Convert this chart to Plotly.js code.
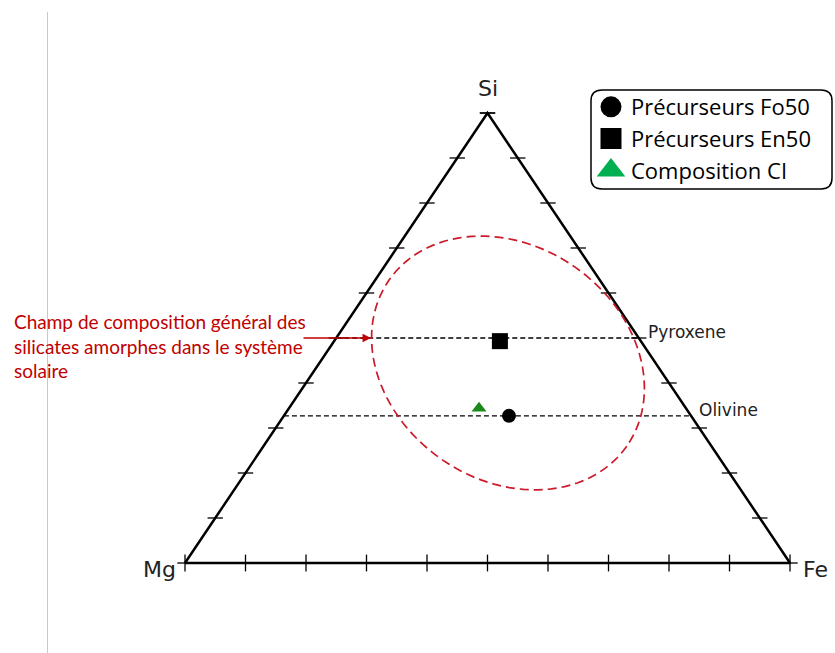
<!DOCTYPE html>
<html>
<head>
<meta charset="utf-8">
<script src="https://cdn.plot.ly/plotly-3.0.1.min.js"></script>
<style>html,body{margin:0;padding:0;background:#fff;}#chart{width:835px;height:653px;}</style>
</head>
<body>
<div id="chart"></div>
<script>
// ---- data (ternary fractions: Si, Fe; Mg = 1 - Si - Fe) ----
const seriesNames = ['Précurseurs Fo50', 'Précurseurs En50', 'Composition CI'];
const siFrac = [0.327, 0.493, 0.344];
const feFrac = [0.372, 0.274, 0.314];
const mgFrac = [0.301, 0.233, 0.342];
const vertexLabels = ['Mg', 'Fe', 'Si'];
const refLineNames = ['Pyroxene', 'Olivine'];
const refLineSi = [0.5, 0.327];
const tickFractions = [0, 0.1, 0.2, 0.3, 0.4, 0.5, 0.6, 0.7, 0.8, 0.9, 1];
const noteText = 'Champ de composition général des<br>silicates amorphes dans le système<br>solaire';

// ternary -> cartesian (Mg at x=0, Fe at x=1, Si at top)
function tx(si, fe) { return fe + si / 2; }
function ty(si) { return si; }

// pixel scale of the layout below (used only for the ellipse outline)
const PX = 605, PY = 450, OX = 185, OY = 563;

const traces = [];
// triangle outline
const triSi = [0, 0, 1, 0], triFe = [0, 1, 0, 0];
traces.push({
  x: triSi.map((s, i) => tx(s, triFe[i])), y: triSi.map(ty),
  mode: 'lines', line: {color: '#000', width: 2.5}, showlegend: false, hoverinfo: 'skip'
});
// ticks: bottom edge
traces.push({
  x: tickFractions.map(f => tx(0, f)), y: tickFractions.map(() => 0),
  mode: 'markers', marker: {symbol: 'line-ns', size: 12, line: {color: '#000', width: 1.3}},
  showlegend: false, hoverinfo: 'skip', cliponaxis: false
});
// ticks: left (Mg-Si) and right (Fe-Si) edges
traces.push({
  x: tickFractions.map(f => tx(f, 0)).concat(tickFractions.map(f => tx(f, 1 - f))),
  y: tickFractions.map(ty).concat(tickFractions.map(ty)),
  mode: 'markers', marker: {symbol: 'line-ew', size: 11, line: {color: '#000', width: 1.3}},
  showlegend: false, hoverinfo: 'skip', cliponaxis: false
});
// reference lines
refLineSi.forEach((s, i) => {
  traces.push({
    x: [tx(s, 0), tx(s, 1 - s)], y: [ty(s), ty(s)],
    mode: 'lines', line: {color: '#000', width: 1.4, dash: '5px,3px'},
    showlegend: false, hoverinfo: 'skip'
  });
});
// data points
const plotSymbols = ['circle', 'square', 'triangle-up'];
const plotColors = ['#000000', '#000000', '#1a8a1a'];
const plotSizes = [14, 16, 13];
const legendColors = ['#000000', '#000000', '#00b050'];
seriesNames.forEach((n, i) => {
  traces.push({
    x: [tx(siFrac[i], feFrac[i])], y: [ty(siFrac[i])], name: n,
    customdata: [[mgFrac[i], feFrac[i], siFrac[i]]],
    mode: 'markers', marker: {symbol: plotSymbols[i], size: plotSizes[i], color: plotColors[i]},
    showlegend: false, cliponaxis: false
  });
});
seriesNames.forEach((n, i) => {
  traces.push({
    x: [null], y: [null], name: n, mode: 'markers',
    marker: {symbol: plotSymbols[i], size: 16, color: legendColors[i], line: {color: legendColors[i], width: 5}},
    showlegend: true
  });
});

// ellipse (dashed red field) in pixel space -> data coords
const ell = {cx: 508, cy: 363, a: 145, b: 117, theta: 35 * Math.PI / 180};
let path = '';
for (let k = 0; k <= 120; k++) {
  const t = 2 * Math.PI * k / 120;
  const px = ell.cx + ell.a * Math.cos(ell.theta) * Math.cos(t) - ell.b * Math.sin(ell.theta) * Math.sin(t);
  const py = ell.cy + ell.a * Math.sin(ell.theta) * Math.cos(t) + ell.b * Math.cos(ell.theta) * Math.sin(t);
  const dx = (px - OX) / PX, dy = (OY - py) / PY;
  path += (k === 0 ? 'M' : 'L') + dx.toFixed(5) + ',' + dy.toFixed(5);
}
path += 'Z';

// rounded legend box in paper coords
const W = 835, H = 653;
function rr(x0, y0, x1, y1, r) {
  const X = v => (v / W).toFixed(5), Y = v => (1 - v / H).toFixed(5);
  return 'M' + X(x0 + r) + ',' + Y(y0) + ' L' + X(x1 - r) + ',' + Y(y0) +
    ' Q' + X(x1) + ',' + Y(y0) + ' ' + X(x1) + ',' + Y(y0 + r) +
    ' L' + X(x1) + ',' + Y(y1 - r) + ' Q' + X(x1) + ',' + Y(y1) + ' ' + X(x1 - r) + ',' + Y(y1) +
    ' L' + X(x0 + r) + ',' + Y(y1) + ' Q' + X(x0) + ',' + Y(y1) + ' ' + X(x0) + ',' + Y(y1 - r) +
    ' L' + X(x0) + ',' + Y(y0 + r) + ' Q' + X(x0) + ',' + Y(y0) + ' ' + X(x0 + r) + ',' + Y(y0) + ' Z';
}

const shapes = [
  {type: 'path', xref: 'x', yref: 'y', path: path, line: {color: '#cc1a2a', width: 1.7, dash: '9px,5px'}},
  {type: 'path', xref: 'paper', yref: 'paper', path: rr(591, 90, 832, 189, 11), line: {color: '#000', width: 1.5}, fillcolor: 'rgba(255,255,255,0)'},
  {type: 'line', xref: 'paper', yref: 'paper', x0: 47.5 / W, x1: 47.5 / W, y0: 0, y1: 1 - 12 / H, line: {color: '#c8c8c8', width: 1}}
];

const annotations = [
  {x: tx(1, 0), y: ty(1), text: vertexLabels[2], showarrow: false, xanchor: 'center', yanchor: 'bottom', yshift: 10, font: {size: 22, color: '#222'}},
  {x: tx(0, 0), y: 0, text: vertexLabels[0], showarrow: false, xanchor: 'right', yanchor: 'middle', xshift: -7, yshift: -6, font: {size: 22, color: '#222'}},
  {x: tx(0, 1), y: 0, text: vertexLabels[1], showarrow: false, xanchor: 'left', yanchor: 'middle', xshift: 11, yshift: -6, font: {size: 22, color: '#222'}},
  {x: tx(refLineSi[0], 1 - refLineSi[0]), y: ty(refLineSi[0]), text: refLineNames[0], showarrow: false, xanchor: 'left', yanchor: 'middle', xshift: 7, yshift: 6, font: {size: 17, color: '#222'}},
  {x: tx(refLineSi[1], 1 - refLineSi[1]), y: ty(refLineSi[1]), text: refLineNames[1], showarrow: false, xanchor: 'left', yanchor: 'middle', xshift: 6, yshift: 6, font: {size: 17, color: '#222'}},
  {xref: 'paper', yref: 'paper', x: 12 / W, y: 1 - 308 / H, text: noteText, showarrow: false, xanchor: 'left', yanchor: 'top', align: 'left', font: {family: 'Lato', size: 19, color: '#c00000'}},
  {xref: 'paper', yref: 'paper', axref: 'pixel', ayref: 'pixel', x: 371 / W, y: 1 - 338 / H, ax: -69, ay: 0, text: '', showarrow: true, arrowhead: 2, arrowsize: 1.3, arrowwidth: 1.3, arrowcolor: '#c00000'}
];

const layout = {
  width: 835, height: 653,
  margin: {l: 0, r: 0, t: 0, b: 0},
  paper_bgcolor: '#fff', plot_bgcolor: '#fff',
  font: {family: 'DejaVu Sans', color: '#000'},
  xaxis: {range: [-OX / PX, (W - OX) / PX], visible: false, fixedrange: true},
  yaxis: {range: [(OY - H) / PY, OY / PY], visible: false, fixedrange: true},
  showlegend: true,
  legend: {x: 591 / W, y: 1 - 86 / H, xanchor: 'left', yanchor: 'top', bgcolor: 'rgba(0,0,0,0)', borderwidth: 0,
    font: {family: 'Open Sans', size: 22, color: '#000'}, itemsizing: 'trace', tracegroupgap: 0},
  shapes: shapes,
  annotations: annotations
};

Plotly.newPlot('chart', traces, layout, {displayModeBar: false, staticPlot: true});
</script>
</body>
</html>
